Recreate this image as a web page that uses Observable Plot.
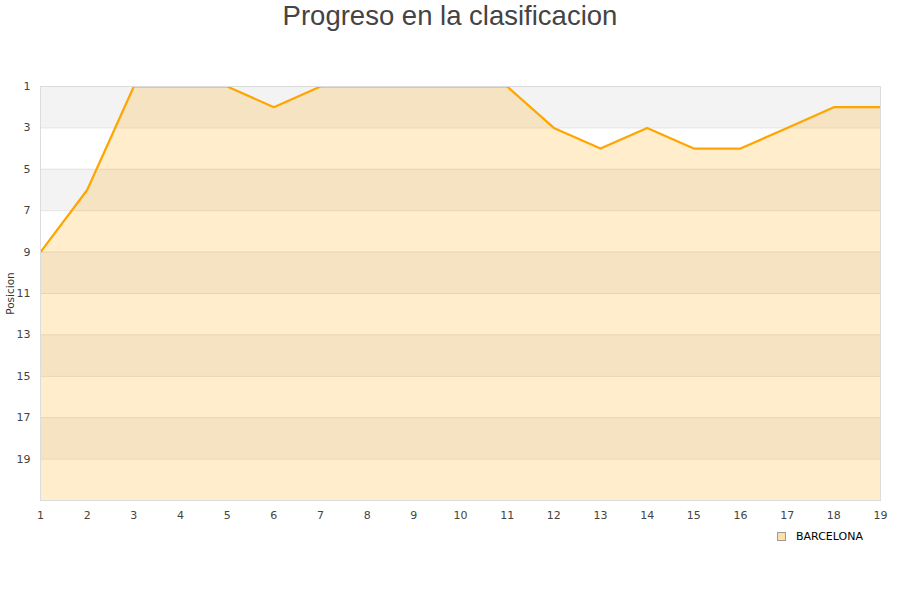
<!DOCTYPE html>
<html>
<head>
<meta charset="utf-8">
<script src="https://cdn.jsdelivr.net/npm/d3@7"></script>
<script src="https://cdn.jsdelivr.net/npm/@observablehq/plot@0.6"></script>
<style>
  body { margin: 0; background: #fff; width: 900px; height: 600px; position: relative; font-family: "DejaVu Sans", sans-serif; }
  #title { height: 32px; line-height: 32px; text-align: center; font-family: "Liberation Sans", Arial, sans-serif; font-size: 27.5px; color: #444; }
  #legend { position: absolute; left: 777px; top: 530px; font-size: 11px; color: #000; display: flex; align-items: center; }
  #legend span.sw { width: 7px; height: 7px; border: 1px solid #999; background: #ffe0a8; margin-right: 10px; display: inline-block; }
</style>
</head>
<body>
<div id="title">Progreso en la clasificacion</div>
<div id="chart"></div>
<div id="legend"><span class="sw"></span>BARCELONA</div>
<script>
  // jornadas y posicion del equipo
  const jornadas = [1,2,3,4,5,6,7,8,9,10,11,12,13,14,15,16,17,18,19];
  const posicion = [9,6,1,1,1,2,1,1,1,1,1,3,4,3,4,4,3,2,2];
  const equipo = "BARCELONA";
  const yTicks = [1,3,5,7,9,11,13,15,17,19];
  const fondo = 21;

  const data = jornadas.map((j, i) => ({jornada: j, pos: posicion[i], equipo}));
  // franjas grises alternas
  const bandas = [1,5,9,13,17].map(a => ({y1: a, y2: a + 2}));

  const chart = Plot.plot({
    width: 900,
    height: 508,
    marginTop: 54,
    marginBottom: 40,
    marginLeft: 40,
    marginRight: 20,
    x: {domain: [1, 19], ticks: jornadas, tickSize: 0, tickPadding: 11, label: null},
    y: {domain: [1, fondo], reverse: true, ticks: yTicks, tickSize: 0, tickPadding: 10, label: null},
    style: {fontFamily: "DejaVu Sans", fontSize: "11px", color: "#444"},
    marks: [
      Plot.rect(bandas, {y1: "y1", y2: "y2", fill: "#f3f3f3"}),
      Plot.ruleY(yTicks, {stroke: "#e2e2e2"}),
      Plot.areaY(data, {x: "jornada", y1: () => fondo, y2: "pos", fill: "#ffa500", fillOpacity: 0.2}),
      Plot.lineY(data, {x: "jornada", y: "pos", stroke: "#ffa500", strokeWidth: 2.2, clip: true}),
      Plot.frame({stroke: "#dcdcdc"}),
      Plot.text(["Posicion"], {frameAnchor: "left", textAnchor: "middle", dx: -30, rotate: -90, fill: "#333", fontSize: 10.5})
    ]
  });
  d3.select("#chart").append(() => chart);
</script>
</body>
</html>
